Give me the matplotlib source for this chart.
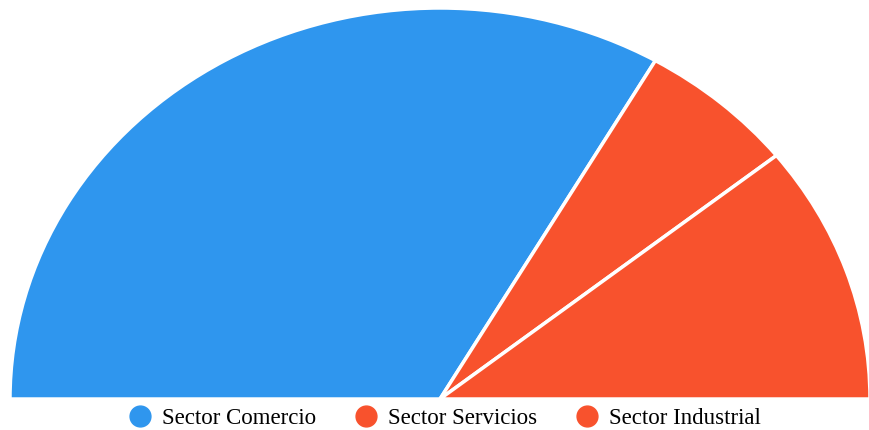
import matplotlib.pyplot as plt
from matplotlib.lines import Line2D

labels = ['Sector Comercio', 'Sector Servicios', 'Sector Industrial']
values = [66.7, 11.9, 21.4]
colors = ['#2F96EE', '#F8522D', '#F8522D']

fig = plt.figure(figsize=(8.69, 4.3), dpi=100)
ax = fig.add_axes([10 / 869, 31 / 430, 860 / 869, 391 / 430])

# half pie: add an invisible slice for the lower half
total = sum(values)
wedges, _ = ax.pie(values + [total], colors=colors + ['none'], startangle=180,
                   counterclock=False,
                   wedgeprops=dict(edgecolor='white', linewidth=2.5))
wedges[-1].set_visible(False)
ax.set_aspect('auto')
ax.set_xlim(-1, 1)
ax.set_ylim(0, 1)
ax.axis('off')

handles = [Line2D([0], [0], marker='o', linestyle='none', markersize=15,
                  markerfacecolor=c, markeredgecolor=c) for c in colors]
fig.legend(handles, labels, loc='center', bbox_to_anchor=(443 / 869, 1 - 418 / 430),
           ncol=3, frameon=False, handlelength=1.3, handletextpad=0.3,
           columnspacing=1.55, prop={'family': 'Liberation Serif', 'size': 16.5})

fig.savefig('out.png', dpi=100)
